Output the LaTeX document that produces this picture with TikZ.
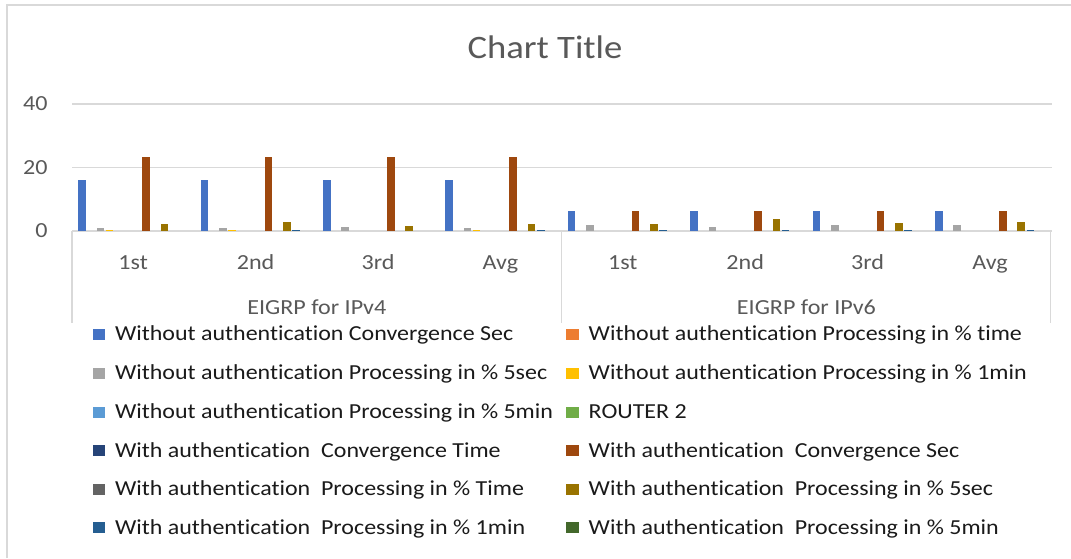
\documentclass[tikz,border=0pt]{standalone}
\usepackage{fontspec}
\setmainfont{Carlito}[FakeStretch=1.12, Ligatures={NoCommon}]
\definecolor{gridc}{HTML}{D9D9D9}
\definecolor{labc}{HTML}{595959}
\definecolor{legc}{HTML}{1A1A1A}
\definecolor{sA}{HTML}{4472C4}
\definecolor{sB}{HTML}{ED7D31}
\definecolor{sC}{HTML}{A5A5A5}
\definecolor{sD}{HTML}{FFC000}
\definecolor{sE}{HTML}{5B9BD5}
\definecolor{sF}{HTML}{70AD47}
\definecolor{sG}{HTML}{264478}
\definecolor{sH}{HTML}{9E480E}
\definecolor{sI}{HTML}{636363}
\definecolor{sJ}{HTML}{997300}
\definecolor{sK}{HTML}{255E91}
\definecolor{sL}{HTML}{43682B}
\tikzset{
  gridline/.style={draw=gridc, line width=1.3pt},
  axlabel/.style={text=labc, inner sep=0pt, font=\fontsize{21.5}{25}\selectfont},
  legtext/.style={text=legc, inner sep=0pt, anchor=base west, font=\fontsize{21.4}{25}\selectfont},
  legkey/.style={inner sep=0pt, minimum width=12.5pt, minimum height=11pt},
  titletext/.style={text=labc, inner sep=0pt, font=\fontsize{32.7}{38}\selectfont}
}
\begin{document}
\begin{tikzpicture}[x=1pt,y=-1pt]
\useasboundingbox (0,0) rectangle (1071,558);
\fill[white] (0,0) rectangle (1071,558);
% frame
\draw[gridline] (7,558) -- (7,5) -- (1071,5);
% title
\node[titletext, anchor=base] (title) at (545,58.3) {Chart Title};
% gridlines
\draw[gridline] (72,104) -- (1051.5,104);
\draw[gridline] (72,167.5) -- (1051.5,167.5);
\draw[gridline] (72,231) -- (1051.5,231);
% y labels
\node[axlabel, anchor=east] (y40) at (47.7,104) {40};
\node[axlabel, anchor=east] (y20) at (47.7,167.5) {20};
\node[axlabel, anchor=east] (y0) at (47.7,231) {0};
% category axis lines
\draw[gridline] (72,231) -- (72,323);
\draw[gridline] (561.5,231) -- (561.5,323);
\draw[gridline] (1050.8,231) -- (1050.8,323);
% category labels
\foreach \lab [count=\k from 0] in {1st,2nd,3rd,Avg,1st,2nd,3rd,Avg}{
  \node[axlabel, anchor=base] (cat\k) at ({72+122.4*\k+61.2},269.5) {\lab};
}
\node[axlabel, anchor=base] (grp1) at (316.8,314.5) {EIGRP for IPv4};
\node[axlabel, anchor=base] (grp2) at (806.4,314.5) {EIGRP for IPv6};
% bars
\foreach \c/\vals in {
  0/{16,0,0.85,0.25,0,0,0,23,0,1.9,0,0},
  1/{16,0,0.9,0.25,0,0,0,23,0,2.7,0.25,0},
  2/{16,0,1.15,0,0,0,0,23,0,1.4,0,0},
  3/{16,0,0.9,0.25,0,0,0,23,0,1.9,0.25,0},
  4/{6,0,1.7,0,0,0,0,6,0,2.0,0.25,0},
  5/{6,0,1.26,0,0,0,0,6,0,3.5,0.25,0},
  6/{6,0,1.8,0,0,0,0,6,0,2.4,0.25,0},
  7/{6,0,1.6,0,0,0,0,6,0,2.7,0.25,0}}{
  \foreach \v [count=\i from 0] in \vals {
    \ifdim \v pt>0pt
      \pgfmathsetmacro{\xl}{72+122.4*\c+6.2+9.15*\i}
      \pgfmathsetmacro{\yt}{230.5-3.175*\v}
      \ifcase\i \def\bc{sA}\or\def\bc{sB}\or\def\bc{sC}\or\def\bc{sD}\or\def\bc{sE}\or\def\bc{sF}\or\def\bc{sG}\or\def\bc{sH}\or\def\bc{sI}\or\def\bc{sJ}\or\def\bc{sK}\or\def\bc{sL}\fi
      \fill[\bc] (\xl,230.5) rectangle ({\xl+7.6},\yt);
    \fi
  }
}
% legend
\foreach \col/\txt/\lx/\ly [count=\k] in {
  sA/{Without authentication Convergence Sec}/92.3/334,
  sB/{Without authentication Processing in \% time}/566/334,
  sC/{Without authentication Processing in \% 5sec}/92.3/373,
  sD/{Without authentication Processing in \% 1min}/566/373,
  sE/{Without authentication Processing in \% 5min}/92.3/412,
  sF/{ROUTER 2}/566/412,
  sG/{With authentication\ \ Convergence Time}/92.3/450.5,
  sH/{With authentication\ \ Convergence Sec}/566/450.5,
  sI/{With authentication\ \ Processing in \% Time}/92.3/489,
  sJ/{With authentication\ \ Processing in \% 5sec}/566/489,
  sK/{With authentication\ \ Processing in \% 1min}/92.3/527.5,
  sL/{With authentication\ \ Processing in \% 5min}/566/527.5}{
  \node[legkey, fill=\col, anchor=west] (key\k) at (\lx,\ly) {};
  \node[legtext] (leg\k) at ({\lx+22.5},{\ly+6.7}) {\txt};
}
\end{tikzpicture}
\end{document}
